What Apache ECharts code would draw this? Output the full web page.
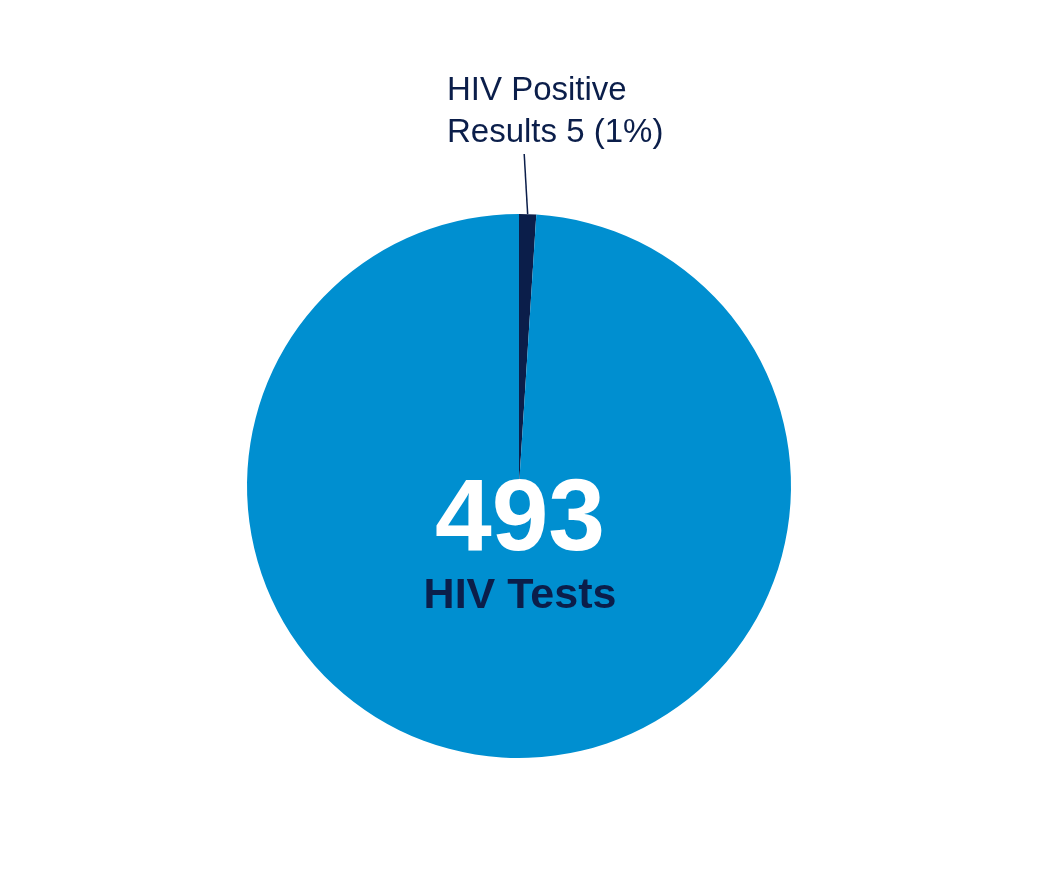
<!DOCTYPE html>
<html><head><meta charset="utf-8">
<script src="https://cdn.jsdelivr.net/npm/echarts@6/dist/echarts.min.js"></script>
<style>html,body{margin:0;padding:0;background:#fff}#c{width:1042px;height:875px}</style>
</head><body><div id="c"></div>
<script>
const categories = ['HIV Positive Results', 'HIV Negative'];
const values = [5, 488];
const totalTests = 493;
const navy = '#0b1e4a';
const blue = '#008fd0';
const chart = echarts.init(document.getElementById('c'));
chart.setOption({
  animation: false,
  backgroundColor: '#fff',
  series: [{
    type: 'pie',
    center: [519, 486],
    radius: [0, 272],
    startAngle: 90,
    clockwise: true,
    silent: true,
    data: categories.map((n, i) => ({
      name: n, value: values[i],
      itemStyle: { color: i === 0 ? navy : blue },
      label: i === 0 ? {
        show: true, position: 'outside',
        formatter: 'HIV Positive\nResults ' + values[0] + ' (1%)',
        fontFamily: 'Liberation Sans', fontSize: 33, lineHeight: 42,
        color: navy, align: 'left', padding: [0, 0, 0, 62]
      } : { show: false },
      labelLine: i === 0 ? { show: true, length: 58, length2: 0, lineStyle: { color: navy, width: 1.5 } } : { show: false }
    })),
    labelLayout: function (p) {
      if (p.dataIndex !== 0) return {};
      return { x: 385, y: 154, align: 'left', verticalAlign: 'bottom' };
    }
  }],
  graphic: [
    { type: 'text', z: 100, x: 520, y: 522, style: { text: String(totalTests), fill: '#fff', font: 'bold 102px "Liberation Sans"', textAlign: 'center', textVerticalAlign: 'middle' } },
    { type: 'text', z: 100, x: 520, y: 596, style: { text: 'HIV Tests', fill: navy, font: 'bold 43px "Liberation Sans"', textAlign: 'center', textVerticalAlign: 'middle' } }
  ]
});
</script></body></html>
